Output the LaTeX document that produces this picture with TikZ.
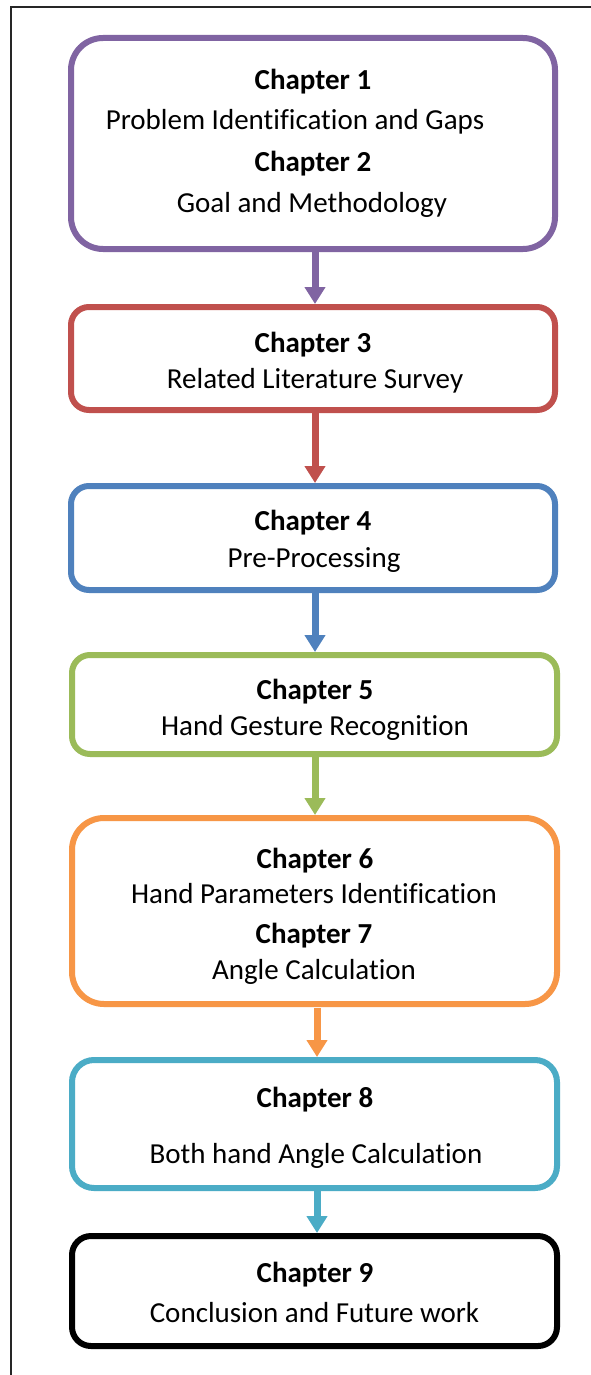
\documentclass[tikz,border=0pt]{standalone}
\usepackage{fontspec}
\setmainfont{Carlito}[Ligatures=NoCommon]
\usetikzlibrary{arrows.meta}
\definecolor{cpurple}{HTML}{8064A2}
\definecolor{cred}{HTML}{C0504D}
\definecolor{cblue}{HTML}{4F81BD}
\definecolor{cgreen}{HTML}{9BBB59}
\definecolor{corange}{HTML}{F79646}
\definecolor{ccyan}{HTML}{4BACC6}
\begin{document}
\begin{tikzpicture}[x=1pt,y=-1pt,
  chbox/.style={draw, line width=6pt, fill=white, inner sep=0pt, minimum width=#1},
  txt/.style={anchor=base, inner sep=0pt, font=\fontsize{29}{35}\selectfont},
  btxt/.style={txt, font=\fontsize{29}{35}\selectfont\bfseries},
  flow/.style={line width=7pt, -{Triangle[width=20pt,length=17pt]}}]
\useasboundingbox (0,0) rectangle (591,1375);
\begin{scope}
\clip (0,0) rectangle (591,1375);
\fill[white] (0,0) rectangle (591,1375);
\draw[line width=1.5pt, black!85] (11,7) rectangle (640,1420);
\end{scope}
% boxes
\node[chbox=484pt, draw=cpurple, rounded corners=32pt, minimum height=211pt] (b1) at (313,143.5) {};
\node[chbox=484pt, draw=cred, rounded corners=18pt, minimum height=103pt] (b2) at (313,358.5) {};
\node[chbox=484pt, draw=cblue, rounded corners=18pt, minimum height=104pt] (b3) at (313,538) {};
\node[chbox=485pt, draw=cgreen, rounded corners=18pt, minimum height=99pt] (b4) at (314.5,704.5) {};
\node[chbox=485pt, draw=corange, rounded corners=32pt, minimum height=186pt] (b5) at (314.5,911) {};
\node[chbox=485pt, draw=ccyan, rounded corners=22pt, minimum height=128pt] (b6) at (314.5,1124) {};
\node[chbox=485pt, draw=black, rounded corners=19pt, minimum height=110pt] (b7) at (314.5,1291) {};
% texts
\node[btxt] (t1a) at (313,90) {Chapter 1};
\node[txt] (t1b) at (295,130) {Problem Identification and Gaps};
\node[btxt] (t1c) at (313,172) {Chapter 2};
\node[txt] (t1d) at (312,212) {Goal and Methodology};
\node[btxt] (t2a) at (313,352) {Chapter 3};
\node[txt] (t2b) at (315,388) {Related Literature Survey};
\node[btxt] (t3a) at (313,530) {Chapter 4};
\node[txt] (t3b) at (314,567) {Pre-Processing};
\node[btxt] (t4a) at (315,699) {Chapter 5};
\node[txt] (t4b) at (315,735) {Hand Gesture Recognition};
\node[btxt] (t5a) at (315,868) {Chapter 6};
\node[txt] (t5b) at (314,903) {Hand Parameters Identification};
\node[btxt] (t5c) at (314,943) {Chapter 7};
\node[txt] (t5d) at (314,979) {Angle Calculation};
\node[btxt] (t6a) at (315,1107) {Chapter 8};
\node[txt] (t6b) at (316,1163) {Both hand Angle Calculation};
\node[btxt] (t7a) at (315,1282) {Chapter 9};
\node[txt] (t7b) at (314.5,1322) {Conclusion and Future work};
% arrows
\draw[flow, cpurple] ([xshift=2pt]b1.south) -- ([xshift=2pt]b2.north);
\draw[flow, cred] ([xshift=2pt]b2.south) -- ([xshift=2pt]b3.north);
\draw[flow, cblue] ([xshift=2pt]b3.south) -- ([xshift=0.5pt]b4.north);
\draw[flow, cgreen] ([xshift=0.5pt]b4.south) -- ([xshift=0.5pt]b5.north);
\draw[flow, corange] ([xshift=2.5pt,yshift=-1pt]b5.south) -- ([xshift=2.5pt]b6.north);
\draw[flow, ccyan] ([xshift=2.5pt]b6.south) -- ([xshift=2.5pt]b7.north);
\end{tikzpicture}
\end{document}
